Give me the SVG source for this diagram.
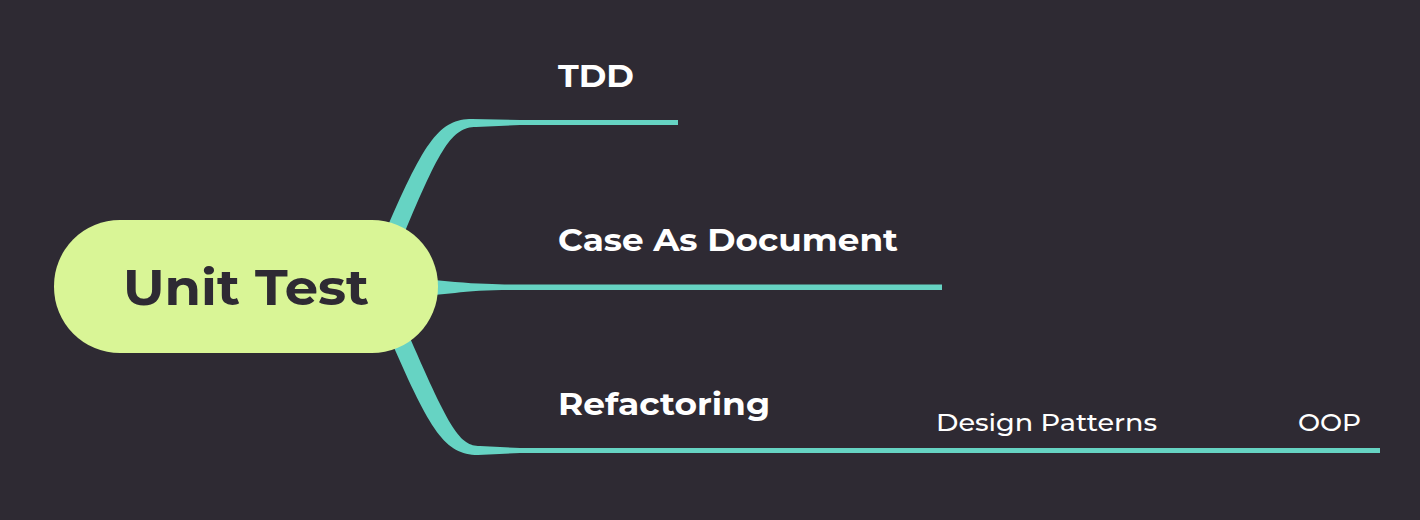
<svg xmlns="http://www.w3.org/2000/svg" width="1420" height="520" viewBox="0 0 1420 520">
<style>
.bg{fill:#2e2a33}
.branch{fill:#66d3c3}
.root{fill:#d9f596}
.rootText{font-family:"Montserrat","Noto Sans","Open Sans",sans-serif;font-weight:700;font-size:50px;fill:#2e2a33}
.lbl1{font-family:"Montserrat","Noto Sans","Open Sans",sans-serif;font-weight:700;font-size:31px;fill:#ffffff}
.lbl2{font-family:"Montserrat","Noto Sans","Open Sans",sans-serif;font-weight:500;font-size:24px;fill:#ffffff}
</style>
<rect class="bg" x="0" y="0" width="1420" height="520"/>
<g id="connectors">
<path class="branch" d="M 387,228 C 425,140 440,119 472,119 L 520,120 L 678,120 L 678,125 L 520,125 L 476,127 C 452,127 440,148 404,234 Z"/>
<path class="branch" d="M 434,280 L 455,282 C 480,284 500,284.5 515,284.5 L 942,284.5 L 942,290 L 515,290 C 490,290 470,291 455,293 L 434,295 Z"/>
<path class="branch" d="M 392,343 C 430,430 445,455 478,455 L 520,453 L 1380,453 L 1380,448 L 520,448 L 480,446 C 460,446 450,430 410,338 Z"/>
</g>
<g id="node-root">
<rect class="root" x="54" y="220" width="384" height="133" rx="66" ry="66"/>
<text class="rootText" x="246" y="305" text-anchor="middle" textLength="246" lengthAdjust="spacingAndGlyphs">Unit Test</text>
</g>
<g id="node-tdd">
<text class="lbl1" x="558" y="87" textLength="76" lengthAdjust="spacingAndGlyphs">TDD</text>
</g>
<g id="node-case">
<text class="lbl1" x="558" y="251" textLength="340" lengthAdjust="spacingAndGlyphs">Case As Document</text>
</g>
<g id="node-refactoring">
<text class="lbl1" x="558" y="415" textLength="212" lengthAdjust="spacingAndGlyphs">Refactoring</text>
</g>
<g id="node-design-patterns">
<text class="lbl2" x="936" y="431" textLength="221" lengthAdjust="spacingAndGlyphs">Design Patterns</text>
</g>
<g id="node-oop">
<text class="lbl2" x="1298" y="431" textLength="63" lengthAdjust="spacingAndGlyphs">OOP</text>
</g>
</svg>
